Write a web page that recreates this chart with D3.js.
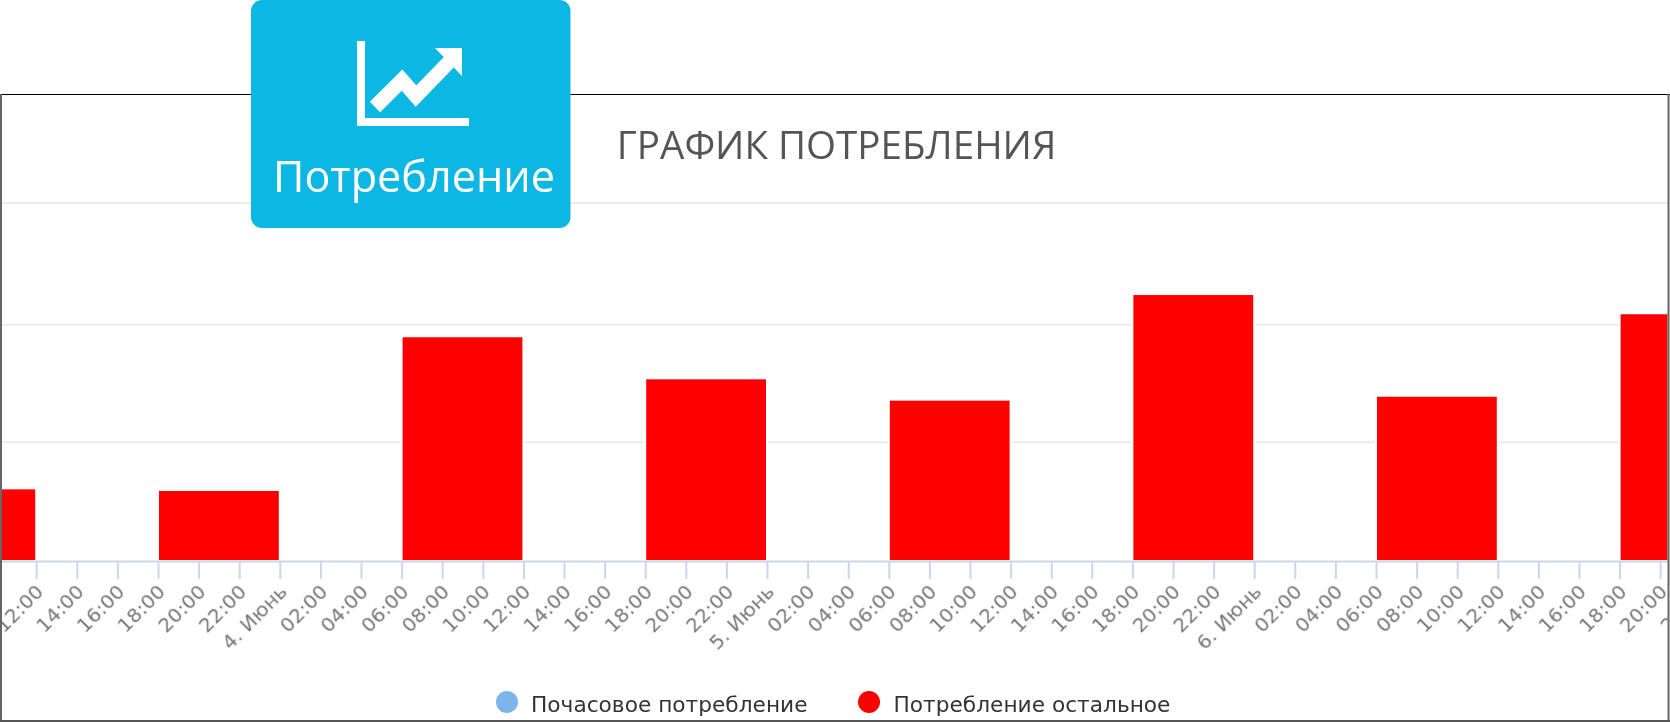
<!DOCTYPE html>
<html lang="ru">
<head>
<meta charset="utf-8">
<script src="https://cdn.jsdelivr.net/npm/d3@7"></script>
<style>
html,body{margin:0;padding:0;background:#fff;overflow:hidden}
svg{display:block}
text{font-family:"DejaVu Sans",sans-serif;filter:blur(0.5px)}
</style>
</head>
<body>
<svg id="chart" width="1670" height="722"></svg>
<script>
const chartTitle = "ГРАФИК ПОТРЕБЛЕНИЯ";
const buttonLabel = "Потребление";
const seriesNames = ["Почасовое потребление", "Потребление остальное"];
const seriesColors = ["#7cb5ec", "#ff0000"];
const barStarts = ["2020-06-03T06:00Z","2020-06-03T18:00Z","2020-06-04T06:00Z","2020-06-04T18:00Z","2020-06-05T06:00Z","2020-06-05T18:00Z","2020-06-06T06:00Z","2020-06-06T18:00Z"];
const barEnds = ["2020-06-03T12:00Z","2020-06-04T00:00Z","2020-06-04T12:00Z","2020-06-05T00:00Z","2020-06-05T12:00Z","2020-06-06T00:00Z","2020-06-06T12:00Z","2020-06-07T00:00Z"];
const barValues = [61.3, 59.9, 189.6, 154.1, 136.1, 225.2, 139.4, 209];
const gridValues = [100.1, 199.3, 302];
const dayLabels = {"2020-06-04":"4. Июнь","2020-06-05":"5. Июнь","2020-06-06":"6. Июнь"};

const svg = d3.select("#chart");
const x = d3.scaleUtc()
  .domain([new Date("2020-06-03T06:00Z"), new Date("2020-06-07T00:00Z")])
  .range([-85.6, 1741.4]);
const y = d3.scaleLinear().domain([0, 302]).range([561, 203]);

const defs = svg.append("defs");
defs.append("clipPath").attr("id","plot").append("rect")
  .attr("x",2).attr("y",95).attr("width",1665.5).attr("height",625);

const plot = svg.append("g").attr("clip-path","url(#plot)");

plot.append("g").selectAll("line").data(gridValues).join("line")
  .attr("x1",2).attr("x2",1668)
  .attr("y1",d=>y(d)).attr("y2",d=>y(d))
  .attr("stroke","#ececec").attr("stroke-width",2);

plot.append("g").selectAll("rect").data(barValues).join("rect")
  .attr("x",(d,i)=>x(new Date(barStarts[i])))
  .attr("width",(d,i)=>x(new Date(barEnds[i]))-x(new Date(barStarts[i])))
  .attr("y",d=>y(d))
  .attr("height",d=>y(0)-y(d))
  .attr("fill",seriesColors[1])
  .attr("stroke","#fff").attr("stroke-width",2);

const fmt = d => {
  const key = d3.utcFormat("%Y-%m-%d")(d);
  return d.getUTCHours()===0 ? (dayLabels[key]||"") : d3.utcFormat("%H:%M")(d);
};
const axis = d3.axisBottom(x)
  .tickValues(d3.utcHour.range(new Date("2020-06-03T12:00Z"), new Date("2020-06-07T00:00Z"), 2))
  .tickFormat(fmt).tickSize(18).tickPadding(0).tickSizeOuter(0);
const ax = plot.append("g").attr("transform",`translate(0,${y(0)})`).call(axis);
ax.select(".domain").attr("stroke","#ccd6eb").attr("stroke-width",2);
ax.selectAll(".tick line").attr("stroke","#ccd6eb").attr("stroke-width",2);
ax.selectAll(".tick text")
  .attr("transform","translate(3,27) rotate(-45)")
  .attr("x",0).attr("y",0).attr("dy","0.35em")
  .attr("text-anchor","end")
  .attr("fill","#777")
  .style("font-family",'"DejaVu Sans",sans-serif')
  .style("font-size","20px");

svg.append("text").attr("x",836.5).attr("y",159).attr("text-anchor","middle")
  .attr("fill","#555")
  .style("font-family",'"Open Sans",sans-serif')
  .style("font-size","38.6px").text(chartTitle);

// Legend
const legendItems = [{cx:507,tx:531},{cx:869,tx:893.5}];
const lg = svg.append("g").selectAll("g").data(seriesNames).join("g");
lg.append("circle").attr("cx",(d,i)=>legendItems[i].cx).attr("cy",702).attr("r",11)
  .attr("fill",(d,i)=>seriesColors[i]);
lg.append("text").attr("x",(d,i)=>legendItems[i].tx).attr("y",712)
  .attr("fill","#333").style("font-size","21.7px").text(d=>d);

// Frame
const frame = svg.append("g");
frame.append("line").attr("x1",0).attr("x2",1670).attr("y1",94.5).attr("y2",94.5).attr("stroke","#000");
frame.append("line").attr("x1",1).attr("x2",1).attr("y1",94).attr("y2",722).attr("stroke","#666").attr("stroke-width",2);
frame.append("line").attr("x1",1668.5).attr("x2",1668.5).attr("y1",94).attr("y2",722).attr("stroke","#666").attr("stroke-width",2);
frame.append("line").attr("x1",0).attr("x2",1670).attr("y1",721).attr("y2",721).attr("stroke","#555").attr("stroke-width",2);

// Navigation button
const btn = svg.append("g");
btn.append("rect").attr("x",251).attr("y",0).attr("width",319.5).attr("height",228).attr("rx",11).attr("fill","#0db7e4");
const icon = btn.append("g").style("filter","blur(0.6px)");
icon.append("path").attr("d","M361,41V122H469").attr("fill","none").attr("stroke","#fff").attr("stroke-width",8);
icon.append("path").attr("d","M375,107L402,80L416,96L450,61").attr("fill","none").attr("stroke","#fff").attr("stroke-width",14.5);
icon.append("path").attr("d","M435,48H462V76Z").attr("fill","#fff");
btn.append("text").attr("x",414).attr("y",192).attr("text-anchor","middle")
  .attr("fill","#fff").style("font-family",'"Open Sans",sans-serif').style("font-size","43.2px").text(buttonLabel);
</script>
</body>
</html>
